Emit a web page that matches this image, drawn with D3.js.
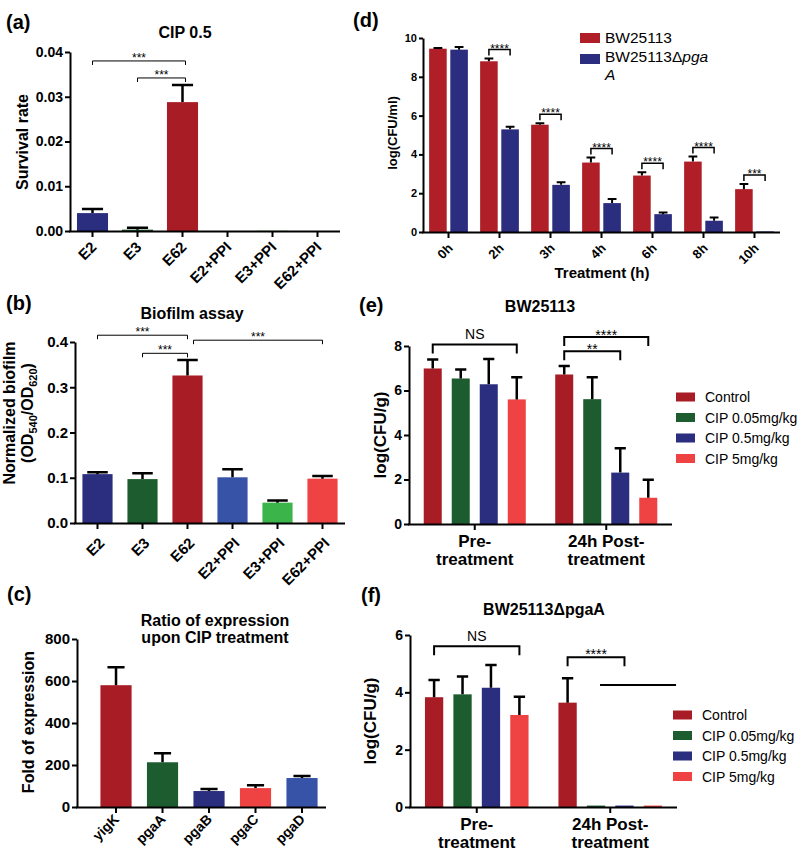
<!DOCTYPE html>
<html><head><meta charset="utf-8">
<script src="https://cdn.jsdelivr.net/npm/d3@7"></script>
<style>
body{margin:0;background:#fff;}
svg{display:block;}
</style></head><body>
<script>
// ---------------- DATA ----------------
const aCats = ["E2","E3","E62","E2+PPI","E3+PPI","E62+PPI"];
const aMeans = [0.0040, 0.0003, 0.0288, 0, 0.00005, 0];
const aSD = [0.0009, 0.0004, 0.0038, 0, 0, 0];
const aTicks = [0, 0.01, 0.02, 0.03, 0.04];
const aSig = [["E2","E62","***",0.038],["E3","E62","***",0.0342]];

const bCats = ["E2","E3","E62","E2+PPI","E3+PPI","E62+PPI"];
const bMeans = [0.108,0.097,0.326,0.101,0.045,0.098];
const bSD = [0.004,0.013,0.034,0.018,0.005,0.006];
const bTicks = [0,0.1,0.2,0.3,0.4];
const bSig = [["E2","E62","***",0.415],["E3","E62","***",0.375],["E62","E62+PPI","***",0.404]];

const cCats = ["yigK","pgaA","pgaB","pgaC","pgaD"];
const cMeans = [580,213,76,90,138];
const cSD = [85,43,10,14,10];
const cTicks = [0,200,400,600,800];

const dCats = ["0h","2h","3h","4h","6h","8h","10h"];
const dSeries = ["BW25113","BW25113ΔpgaA"];
const dWT = [9.45,8.80,5.53,3.58,2.91,3.63,2.21];
const dWTsd = [0.04,0.14,0.07,0.26,0.17,0.26,0.27];
const dMut = [9.40,5.29,2.43,1.49,0.92,0.58,0.03];
const dMutSD = [0.14,0.14,0.14,0.21,0.09,0.17,0];
const dSig = ["","****","****","****","****","****","***"];
const dTicks = [0,2,4,6,8,10];

const groups = ["Pre-treatment","24h Post-treatment"];
const groupLines = [["Pre-","treatment"],["24h Post-","treatment"]];
const treatments = ["Control","CIP 0.05mg/kg","CIP 0.5mg/kg","CIP 5mg/kg"];
const eMeans = [[6.99,6.54,6.28,5.60],[6.72,5.61,2.31,1.18]];
const eSD = [[0.40,0.40,1.14,1.00],[0.38,0.99,1.09,0.81]];
const eTicks = [0,2,4,6,8];
const eSig = [[0,0,3,"NS",8.07],[1,0,2,"**",7.76],[1,0,3,"****",8.40]];
const fMeans = [[3.83,3.93,4.16,3.21],[3.64,0.05,0.05,0.05]];
const fSD = [[0.60,0.62,0.79,0.64],[0.85,0,0,0]];
const fTicks = [0,2,4,6];
const fSig = [[0,0,3,"NS",5.61],[1,0,2,"****",5.22]];
const fLine = [1,1,3,4.26];

// ---------------- STYLE ----------------
const C = {navy:"#2b2d7e", dgreen:"#1d5c2e", red:"#a81d25", mblue:"#3753a8", bgreen:"#3bb54a", salmon:"#ef4242", dred:"#b01f28"};
const FONT = '"Liberation Sans", Arial, Helvetica, sans-serif';
const svg = d3.select("body").append("svg").attr("width",800).attr("height",851)
  .style("font-family",FONT);

function txt(x,y,s,fs,weight,anchor){
  return svg.append("text").attr("x",x).attr("y",y).text(s)
    .attr("font-size",fs).attr("font-weight",weight||"bold")
    .attr("text-anchor",anchor||"start").attr("fill","#000");
}
function rotTxt(x,y,s,fs,weight){
  return svg.append("text").attr("transform",`translate(${x},${y}) rotate(-90)`)
    .attr("text-anchor","middle").attr("font-size",fs).attr("font-weight",weight||"bold").text(s);
}
function styleAxis(g, fs, sw){
  g.attr("font-family",null).attr("font-size",null);
  g.selectAll("path.domain").attr("stroke","#000").attr("stroke-width",sw);
  g.selectAll(".tick line").attr("stroke","#000").attr("stroke-width",sw);
  g.selectAll(".tick text").attr("fill","#000").attr("font-size",fs).attr("font-weight","bold");
}
function errBars(g, items, sw){
  g.selectAll(null).data(items.filter(d=>d.y1 < d.y0-0.5)).join("path")
    .attr("d", d=>`M${d.cx},${d.y0}V${d.y1}M${d.cx-d.cap/2},${d.y1}H${d.cx+d.cap/2}`)
    .attr("stroke","#000").attr("stroke-width",sw).attr("fill","none");
}
function bracket(x1,x2,yy,tick,label,fs,sw,ldy,weight){
  svg.append("path").attr("d",`M${x1},${yy+tick}V${yy}H${x2}V${yy+tick}`)
    .attr("stroke","#000").attr("stroke-width",sw).attr("fill","none");
  svg.append("text").attr("x",(x1+x2)/2).attr("y",yy+ldy).attr("text-anchor","middle")
    .attr("font-size",fs).attr("font-weight",weight||"normal").text(label);
}

function simplePanel(o){
  const g = svg.append("g");
  const x = d3.scaleBand().domain(o.cats).range([o.x0,o.x1]).paddingInner(o.pi).paddingOuter(o.po).align(o.align==null?0.5:o.align);
  const y = d3.scaleLinear().domain([0,o.max]).range([o.yb,o.yt]);
  g.selectAll(null).data(o.cats).join("rect")
    .attr("x",d=>x(d)).attr("width",x.bandwidth())
    .attr("y",(d,i)=>y(o.means[i])).attr("height",(d,i)=>y(0)-y(o.means[i]))
    .attr("fill",(d,i)=>o.colors[i]);
  errBars(g, o.cats.map((d,i)=>({cx:x(d)+x.bandwidth()/2, y0:y(o.means[i]), y1:y(o.means[i]+o.sd[i]), cap:x.bandwidth()*o.cap})), 2.5);
  const ya = g.append("g").attr("transform",`translate(${o.x0},0)`)
    .call(d3.axisLeft(y).tickValues(o.ticks).tickFormat(o.fmt).tickSize(5).tickSizeOuter(0).tickPadding(2));
  styleAxis(ya,o.yfs,2);
  const xa = g.append("g").attr("transform",`translate(0,${o.yb})`)
    .call(d3.axisBottom(x).tickSize(6).tickSizeOuter(0));
  styleAxis(xa,o.xfs,2);
  xa.select("path.domain").attr("d",`M${o.x0-1},0.5H${o.x1}`);
  xa.selectAll(".tick text").attr("x",0).attr("y",0).attr("dy","0")
    .attr("transform",`translate(${o.ldx},${o.ldy}) rotate(-45)`).attr("text-anchor","end");
  return {x,y};
}

function groupedPanel(o){
  const g = svg.append("g");
  const x0 = d3.scaleBand().domain(o.groups).range([o.x0,o.x1]).paddingInner(o.pi).paddingOuter(o.po);
  const x1 = d3.scaleBand().domain(o.series).range([0,x0.bandwidth()]).paddingInner(o.pi2);
  const y = d3.scaleLinear().domain([0,o.max]).range([o.yb,o.yt]);
  const items = [];
  o.groups.forEach((gr,gi)=>o.series.forEach((s,si)=>items.push({gi,si,gr,s,v:o.means[gi][si],sd:o.sd[gi][si]})));
  g.selectAll(null).data(items).join("rect")
    .attr("x",d=>x0(d.gr)+x1(d.s)).attr("width",x1.bandwidth())
    .attr("y",d=>y(d.v)).attr("height",d=>y(0)-y(d.v))
    .attr("fill",d=>o.colors[d.si]);
  errBars(g, items.map(d=>({cx:x0(d.gr)+x1(d.s)+x1.bandwidth()/2, y0:y(d.v), y1:y(d.v+d.sd), cap:x1.bandwidth()*o.cap})), o.esw);
  const ya = g.append("g").attr("transform",`translate(${o.x0},0)`)
    .call(d3.axisLeft(y).tickValues(o.ticks).tickFormat(d3.format("d")).tickSize(o.yts).tickSizeOuter(0).tickPadding(2));
  styleAxis(ya,o.yfs,2);
  const xa = g.append("g").attr("transform",`translate(0,${o.yb})`)
    .call(d3.axisBottom(x0).tickSize(6).tickSizeOuter(0));
  styleAxis(xa,o.xfs,2);
  xa.select("path.domain").attr("d",`M${o.x0-1},0.5H${o.x1}`);
  const cx = (gi,si)=>x0(o.groups[gi])+x1(o.series[si])+x1.bandwidth()/2;
  return {x0,x1,y,xa,cx,items};
}

// ---------------- PANEL (a) ----------------
txt(6,29,"(a)",20);
txt(185,38,"CIP 0.5",16,"bold","middle");
rotTxt(28,142,"Survival rate",16);
const A = simplePanel({cats:aCats,means:aMeans,sd:aSD,colors:[C.navy,C.dgreen,C.red,C.mblue,C.bgreen,C.salmon],
  x0:70,x1:340,pi:0.31,po:0.155,yb:231,yt:52,max:0.04,ticks:aTicks,fmt:d3.format(".2f"),yfs:14,xfs:15,cap:0.68,ldx:5,ldy:17});
aSig.forEach(s=>{
  const c1=A.x(s[0])+A.x.bandwidth()/2, c2=A.x(s[1])+A.x.bandwidth()/2+3;
  bracket(c1,c2,A.y(s[3]),4,s[2],12,1,1);
});

// ---------------- PANEL (b) ----------------
txt(6,310,"(b)",20);
txt(192,319,"Biofilm assay",16,"bold","middle");
rotTxt(15,413,"Normalized biofilm",16);
{
  const t = svg.append("text").attr("transform","translate(33,413) rotate(-90)").attr("text-anchor","middle")
    .attr("font-size",16).attr("font-weight","bold");
  t.append("tspan").text("(OD");
  t.append("tspan").attr("font-size",11).attr("dy",4).text("540");
  t.append("tspan").attr("dy",-4).text("/OD");
  t.append("tspan").attr("font-size",11).attr("dy",4).text("620");
  t.append("tspan").attr("dy",-4).text(")");
}
const B = simplePanel({cats:bCats,means:bMeans,sd:bSD,colors:[C.navy,C.dgreen,C.red,C.mblue,C.bgreen,C.salmon],
  x0:75,x1:345,pi:0.33,po:0.165,yb:523,yt:342,max:0.4,ticks:bTicks,fmt:d3.format(".1f"),yfs:15,xfs:15,cap:0.68,ldx:8,ldy:21});
bSig.forEach((s,i)=>{
  let c1=B.x(s[0])+B.x.bandwidth()/2, c2=B.x(s[1])+B.x.bandwidth()/2;
  if(i===2) c1+=6;
  bracket(c1,c2,B.y(s[3]),4,s[2],12,1,1);
});

// ---------------- PANEL (c) ----------------
txt(7,601,"(c)",20);
txt(215,626,"Ratio of expression",16,"bold","middle");
txt(215,643,"upon CIP treatment",16,"bold","middle");
rotTxt(34,722,"Fold of expression",16);
simplePanel({cats:cCats,means:cMeans,sd:cSD,colors:[C.red,C.dgreen,C.navy,C.salmon,C.mblue],
  x0:77,x1:326,pi:0.33,po:0.3425,align:0.736,yb:807,yt:639,max:800,ticks:cTicks,fmt:d3.format("d"),yfs:15,xfs:14,cap:0.55,ldx:4,ldy:13});

// ---------------- PANEL (d) ----------------
txt(353,27,"(d)",20);
rotTxt(397,133,"log(CFU/ml)",13);
txt(602,278,"Treatment (h)",15,"bold","middle");
const D = groupedPanel({groups:dCats,series:dSeries,means:dCats.map((c,i)=>[dWT[i],dMut[i]]),
  sd:dCats.map((c,i)=>[dWTsd[i],dMutSD[i]]),colors:[C.dred,C.navy],
  x0:423,x1:780,pi:0.24,po:0.12,pi2:0.17,yb:232,yt:38,max:10,ticks:dTicks,yfs:11,xfs:13,yts:4,cap:0.5,esw:2});
D.xa.selectAll(".tick text").attr("x",0).attr("y",0).attr("dy","0")
  .attr("transform","translate(5,17) rotate(-45)").attr("text-anchor","end");
dCats.forEach((c,i)=>{
  if(!dSig[i]) return;
  const top = Math.max(dWT[i]+dWTsd[i], dMut[i]+dMutSD[i]);
  const yy = D.y(top)-9;
  bracket(D.cx(i,0),D.cx(i,1),yy,6,dSig[i],12,1.5,3);
});
// legend (d)
svg.append("rect").attr("x",580).attr("y",33).attr("width",20).attr("height",10).attr("fill",C.dred);
svg.append("rect").attr("x",580).attr("y",54).attr("width",20).attr("height",10).attr("fill",C.navy);
txt(605,43,dSeries[0],15.5,"normal");
{
  const t = txt(605,62,"",15.5,"normal");
  t.append("tspan").text("BW25113Δ");
  t.append("tspan").attr("font-style","italic").text("pga");
  txt(605,80,"",15.5,"normal").append("tspan").attr("font-style","italic").text("A");
}

// ---------------- PANELS (e), (f) ----------------
const eColors = [C.red,C.dgreen,C.navy,C.salmon];
function legendEF(x,yc){
  treatments.forEach((t,i)=>{
    svg.append("rect").attr("x",x).attr("y",yc+i*20.5-4.5).attr("width",19).attr("height",9).attr("fill",eColors[i]);
    txt(x+29,yc+i*20.5+5,t,14,"normal");
  });
}
function groupLabels(P,axisY){
  groups.forEach((g,gi)=>{
    const cx = P.x0(g)+P.x0.bandwidth()/2;
    txt(cx,axisY+23,groupLines[gi][0],17,"bold","middle");
    txt(cx,axisY+41,groupLines[gi][1],17,"bold","middle");
  });
}

txt(359,312,"(e)",20);
txt(540,312,"BW25113",16,"bold","middle");
rotTxt(386,435,"log(CFU/g)",17);
const E = groupedPanel({groups,series:treatments,means:eMeans,sd:eSD,colors:eColors,
  x0:409,x1:672,pi:0.224,po:0.112,pi2:0.357,yb:524,yt:346,max:8,ticks:eTicks,yfs:14,xfs:14,yts:5,cap:0.62,esw:2.5});
E.xa.selectAll(".tick text").remove();
groupLabels(E,524);
eSig.forEach(s=>{
  const isNS = s[3]==="NS";
  bracket(E.cx(s[0],s[1]),E.cx(s[0],s[2]),E.y(s[4]),9,s[3],14,2,isNS?-5:3);
});
legendEF(676,397);

txt(361,602,"(f)",20);
txt(544,615,"BW25113ΔpgaA",16,"bold","middle");
rotTxt(376,721,"log(CFU/g)",17);
const F = groupedPanel({groups,series:treatments,means:fMeans,sd:fSD,colors:eColors,
  x0:410,x1:677,pi:0.224,po:0.112,pi2:0.357,yb:807,yt:635,max:6,ticks:fTicks,yfs:14,xfs:14,yts:5,cap:0.62,esw:2.5});
F.xa.selectAll(".tick text").remove();
groupLabels(F,807);
fSig.forEach(s=>{
  const isNS = s[3]==="NS";
  bracket(F.cx(s[0],s[1]),F.cx(s[0],s[2]),F.y(s[4]),9,s[3],14,2,isNS?-5:2);
});
svg.append("path").attr("d",`M${F.cx(fLine[0],fLine[1])+4},${F.y(fLine[3])}H${F.cx(fLine[0],fLine[2])+F.x1.bandwidth()/2+14}`)
  .attr("stroke","#000").attr("stroke-width",2);
legendEF(673,715);
</script>
</body></html>
